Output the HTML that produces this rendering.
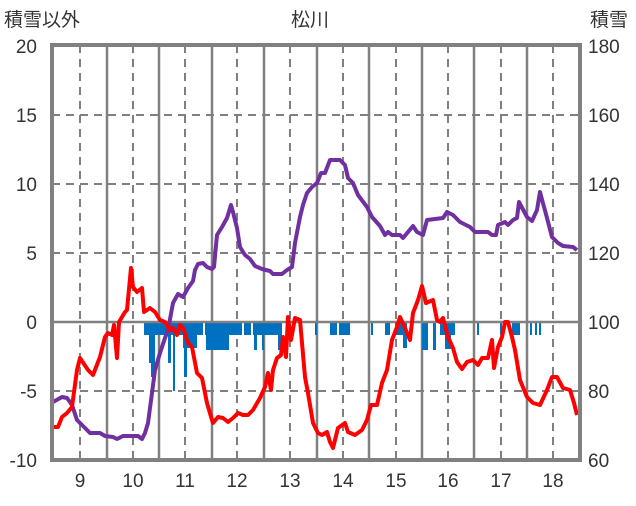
<!DOCTYPE html>
<html><head><meta charset="utf-8"><style>
body{margin:0;background:#fff}
text{font-family:"Liberation Sans","Noto Sans CJK JP",sans-serif;font-size:19px;fill:#333}
</style></head><body>
<svg width="636" height="501" viewBox="0 0 636 501" xmlns="http://www.w3.org/2000/svg">
<rect width="636" height="501" fill="#fff"/>
<g stroke="#808080" stroke-width="2.5">
<line x1="107" y1="45" x2="107" y2="460"/><line x1="159" y1="45" x2="159" y2="460"/><line x1="212" y1="45" x2="212" y2="460"/><line x1="264" y1="45" x2="264" y2="460"/><line x1="317" y1="45" x2="317" y2="460"/><line x1="369" y1="45" x2="369" y2="460"/><line x1="422" y1="45" x2="422" y2="460"/><line x1="474" y1="45" x2="474" y2="460"/><line x1="527" y1="45" x2="527" y2="460"/>
</g>
<g stroke="#808080" stroke-width="2" stroke-dasharray="8,6">
<line x1="80" y1="45" x2="80" y2="460"/><line x1="133" y1="45" x2="133" y2="460"/><line x1="185" y1="45" x2="185" y2="460"/><line x1="237" y1="45" x2="237" y2="460"/><line x1="290" y1="45" x2="290" y2="460"/><line x1="343" y1="45" x2="343" y2="460"/><line x1="396" y1="45" x2="396" y2="460"/><line x1="448" y1="45" x2="448" y2="460"/><line x1="501" y1="45" x2="501" y2="460"/><line x1="553" y1="45" x2="553" y2="460"/>
<line x1="52" y1="115" x2="580" y2="115"/><line x1="52" y1="184" x2="580" y2="184"/><line x1="52" y1="253" x2="580" y2="253"/><line x1="52" y1="391" x2="580" y2="391"/>
</g>
<g fill="#0070C0">
<rect x="144" y="322" width="59" height="13"/><rect x="205" y="322" width="22" height="13"/><rect x="229" y="322" width="13" height="13"/><rect x="244" y="322" width="7" height="13"/><rect x="253" y="322" width="29" height="13"/>
<rect x="149" y="322" width="4" height="41"/><rect x="151" y="322" width="4" height="55"/><rect x="168" y="322" width="3" height="41"/><rect x="173" y="322" width="2" height="69"/><rect x="184" y="322" width="3" height="55"/><rect x="183" y="322" width="14" height="26"/><rect x="206" y="322" width="23" height="28"/><rect x="254" y="322" width="3" height="28"/><rect x="262" y="322" width="2" height="28"/><rect x="278" y="322" width="4" height="28"/>
<rect x="315" y="322" width="2" height="13"/><rect x="330" y="322" width="7" height="13"/><rect x="339" y="322" width="11" height="13"/><rect x="371" y="322" width="2" height="13"/><rect x="385" y="322" width="5" height="13"/><rect x="395" y="322" width="12" height="13"/><rect x="403" y="322" width="4" height="26"/><rect x="422" y="322" width="6" height="28"/><rect x="433" y="322" width="3" height="28"/><rect x="440" y="322" width="15" height="13"/><rect x="445" y="322" width="6" height="27"/><rect x="477" y="322" width="2" height="13"/><rect x="500" y="322" width="2" height="13"/><rect x="512" y="322" width="8" height="13"/><rect x="530" y="322" width="2" height="13"/><rect x="535" y="322" width="2" height="13"/><rect x="539" y="322" width="2" height="13"/>
</g>
<line x1="52" y1="322" x2="580" y2="322" stroke="#808080" stroke-width="2.5"/>
<polyline fill="none" stroke="#7030A0" stroke-width="4" stroke-linejoin="round" points="53,402 62,397 67,398 72,405 77,420 82,425 90,433 100,433 105,436 113,437 117,439 123,436 138,436 142,439 145,433 148,423 152,393 155,370 160,353 165,338 168,330 173,303 178,294 183,297 188,288 193,281 195,270 198,264 203,263 207,267 212,269 214,267 217,235 222,227 227,218 231,205 233,212 237,228 240,247 245,255 250,259 255,266 262,269 270,271 273,274 282,274 287,270 292,267 295,243 300,217 303,205 307,193 312,187 317,183 321,173 325,173 330,160 340,160 345,165 348,178 353,183 358,195 367,207 372,217 380,226 385,235 388,232 392,235 400,235 403,238 413,226 417,232 423,235 427,220 443,218 447,212 453,215 460,222 470,227 475,232 488,232 492,235 496,235 498,225 505,222 508,225 513,220 517,218 519,202 527,217 532,221 537,210 540,192 547,218 552,237 558,243 563,246 573,247 577,250"/>
<polyline fill="none" stroke="#FF0000" stroke-width="4" stroke-linejoin="round" points="54,427 58,427 62,417 67,413 72,407 77,370 80,358 88,370 93,375 100,357 105,337 108,333 112,335 114,325 117,358 119,322 125,312 127,310 131,268 133,287 137,292 142,288 144,312 150,308 155,312 160,320 165,322 170,330 173,328 177,335 180,325 183,328 188,343 192,347 197,373 202,378 207,403 212,420 213,423 218,417 223,418 228,422 233,418 238,413 243,415 248,415 253,410 260,398 265,387 268,373 271,390 273,370 277,358 281,355 283,337 286,357 288,317 291,340 295,318 300,320 305,377 308,393 313,423 318,433 322,435 327,432 330,442 333,448 338,428 345,423 348,432 355,435 362,430 367,420 371,405 377,405 382,383 387,370 392,340 397,327 400,317 405,328 410,340 413,313 418,300 422,286 426,303 433,300 437,320 440,322 443,318 448,337 453,348 457,362 462,369 467,362 473,360 478,365 482,358 488,358 492,340 494,368 498,347 502,337 505,322 508,322 512,337 515,350 520,380 527,397 533,403 540,405 547,390 552,377 557,377 563,388 570,390 574,403 577,415"/>
<rect x="52" y="45" width="528" height="415" fill="none" stroke="#808080" stroke-width="4"/>
<g text-anchor="end">
<text x="37" y="53">20</text><text x="37" y="122">15</text><text x="37" y="191">10</text><text x="37" y="260">5</text><text x="37" y="329">0</text><text x="37" y="398">-5</text><text x="37" y="467">-10</text>
</g>
<g>
<text x="588" y="53">180</text><text x="588" y="122">160</text><text x="588" y="191">140</text><text x="588" y="260">120</text><text x="588" y="329">100</text><text x="588" y="398">80</text><text x="588" y="467">60</text>
</g>
<g text-anchor="middle">
<text x="80" y="487">9</text><text x="133" y="487">10</text><text x="185" y="487">11</text><text x="237" y="487">12</text><text x="290" y="487">13</text><text x="343" y="487">14</text><text x="396" y="487">15</text><text x="448" y="487">16</text><text x="501" y="487">17</text><text x="553" y="487">18</text>
<text x="310" y="26">松川</text>
</g>
<text x="4" y="26">積雪以外</text>
<text x="590" y="26">積雪</text>
</svg>
</body></html>
